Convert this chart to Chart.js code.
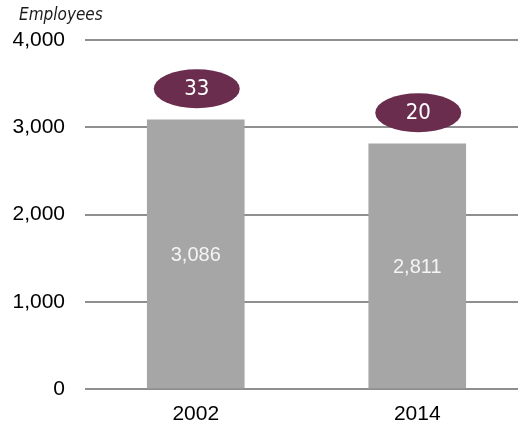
<!DOCTYPE html>
<html>
<head>
<meta charset="utf-8">
<script src="https://cdn.jsdelivr.net/npm/chart.js@4/dist/chart.umd.min.js"></script>
<style>
  html, body { margin: 0; padding: 0; background: #fff; overflow: hidden; }
  #wrap { width: 518px; height: 426px; overflow: hidden; }
  canvas { display: block; }
</style>
</head>
<body>
<div id="wrap"><canvas id="c" width="528" height="426"></canvas></div>
<script>
const categories = ['2002', '2014'];
const employees = [3086, 2811];
const badgeValues = [33, 20];
const yTicks = [0, 1000, 2000, 3000, 4000];
const axisTitle = 'Employees';

const NARROW = '"Liberation Sans Narrow", "Arial Narrow", "DejaVu Sans Condensed", sans-serif';
const SANS = '"Liberation Sans", Arial, sans-serif';

const overlay = {
  id: 'overlay',
  afterDatasetsDraw(chart) {
    const ctx = chart.ctx;
    const meta = chart.getDatasetMeta(0);
    ctx.save();
    meta.data.forEach((bar, i) => {
      const midY = (bar.y + bar.base) / 2;
      ctx.fillStyle = '#f4f4f4';
      ctx.font = '20px ' + SANS;
      ctx.textAlign = 'center';
      ctx.textBaseline = 'middle';
      ctx.fillText(employees[i].toLocaleString('en-US'), bar.x, midY + 2);
      const cy = bar.y - 31;
      ctx.beginPath();
      ctx.ellipse(bar.x + 1, cy, 43, 19.5, 0, 0, Math.PI * 2);
      ctx.fillStyle = '#6a2d4e';
      ctx.fill();
      ctx.fillStyle = '#ffffff';
      ctx.font = '22px ' + NARROW;
      ctx.fillText(String(badgeValues[i]), bar.x + 1, cy + 1);
    });
    ctx.fillStyle = '#1a1a1a';
    ctx.font = 'italic 17px ' + NARROW;
    ctx.textAlign = 'left';
    ctx.textBaseline = 'alphabetic';
    ctx.fillText(axisTitle, 19, 20);
    ctx.restore();
  }
};

new Chart(document.getElementById('c'), {
  type: 'bar',
  data: {
    labels: categories,
    datasets: [{
      data: employees,
      backgroundColor: '#a6a6a6',
      borderWidth: 0,
      barThickness: 97
    }]
  },
  options: {
    responsive: false,
    animation: false,
    devicePixelRatio: 1,
    layout: { padding: { top: 40, right: 0, bottom: 0, left: 0 } },
    plugins: { legend: { display: false }, tooltip: { enabled: false } },
    scales: {
      x: {
        grid: { display: false, drawTicks: false },
        border: { display: false },
        ticks: { color: '#000', font: { family: SANS, size: 21 }, padding: 13 },
        afterFit(s) { s.height = 37; }
      },
      y: {
        min: 0, max: 4000,
        afterBuildTicks(s) { s.ticks = yTicks.map(v => ({ value: v })); },
        grid: { color: '#8f8f8f', lineWidth: 2, drawTicks: false },
        border: { display: false },
        ticks: {
          color: '#000',
          font: { family: SANS, size: 21 },
          padding: 20,
          callback: v => Number(v).toLocaleString('en-US')
        },
        afterFit(s) { s.width = 85; }
      }
    }
  },
  plugins: [overlay]
});
</script>
</body>
</html>
